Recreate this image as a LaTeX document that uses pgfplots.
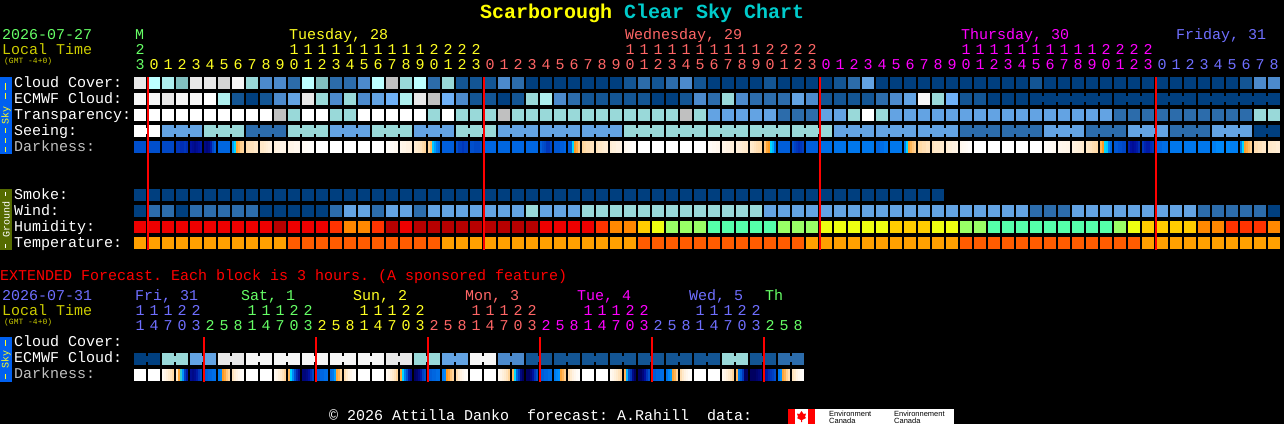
\documentclass[border=0pt]{standalone}
\usepackage{pgfplots}
\usepackage{pgfplotstable}
\usepackage{fontspec}
\pgfplotsset{compat=1.18}
\setmainfont{Liberation Mono}
\newfontfamily\logofont{Liberation Sans}

\definecolor{dayM}{HTML}{66FF66}
\definecolor{dayT}{HTML}{FFFF22}
\definecolor{dayW}{HTML}{FF6666}
\definecolor{dayH}{HTML}{FF00FF}
\definecolor{dayF}{HTML}{6F6FFF}
\definecolor{ltime}{HTML}{CCCC00}
\definecolor{skyb}{HTML}{0060F0}
\definecolor{gndg}{HTML}{556B00}
\definecolor{lab}{HTML}{FFFFFF}
\definecolor{labg}{HTML}{C0C0C0}
\definecolor{titley}{HTML}{FFFF00}
\definecolor{titlec}{HTML}{00CCCC}
\definecolor{lred}{HTML}{FF0000}

\pgfdeclareplotmark{cell}{\pgfpathrectangle{\pgfpoint{-6pt}{-6pt}}{\pgfpoint{12pt}{12pt}}\pgfusepathqfill}
\pgfdeclareplotmark{bridge}{\pgfpathrectangle{\pgfpoint{-1.5pt}{-3pt}}{\pgfpoint{3pt}{6pt}}\pgfusepathqfill}
\pgfdeclareplotmark{strip}{\pgfpathrectangle{\pgfpoint{-1pt}{-6pt}}{\pgfpoint{2.3pt}{12pt}}\pgfusepathqfill}

% i cloud ecmwf transp seeing smoke wind humidity temperature  (palette indices)
\pgfplotstableread{
i cloud ecmwf transp seeing smoke wind hum temp
0 11 12 13 13 0 0 20 28
1 9 12 13 13 0 2 20 28
2 8 11 13 4 0 2 20 28
3 7 12 13 4 0 0 20 28
4 11 12 13 4 0 2 20 28
5 11 13 13 6 0 2 20 28
6 14 8 13 6 0 2 20 28
7 12 1 13 6 0 2 20 28
8 6 0 13 2 0 2 20 28
9 3 1 13 2 0 0 20 28
10 3 3 10 2 0 0 21 28
11 2 4 6 6 0 0 20 29
12 9 11 13 6 0 0 20 29
13 7 6 13 6 0 0 20 29
14 2 3 6 4 0 2 22 29
15 2 6 6 4 0 4 23 29
16 3 3 13 4 0 4 23 29
17 9 4 13 6 0 2 22 29
18 10 5 13 6 0 4 21 29
19 6 8 13 6 0 4 20 29
20 9 11 13 4 0 2 21 29
21 2 10 6 4 0 4 21 29
22 6 5 13 4 0 4 21 28
23 1 3 6 6 0 4 21 28
24 1 1 6 6 0 4 21 28
25 1 1 6 6 0 4 21 28
26 3 0 10 4 0 4 21 28
27 2 1 6 4 0 4 21 28
28 0 6 6 4 0 6 21 28
29 0 8 6 4 0 4 20 28
30 0 3 6 4 0 4 20 28
31 0 2 6 4 0 4 20 28
32 0 1 6 4 0 6 20 28
33 0 1 6 4 0 6 22 28
34 0 1 6 4 0 6 23 28
35 1 1 6 6 0 6 23 28
36 2 1 6 6 0 6 24 29
37 1 0 6 6 0 6 25 29
38 2 0 6 6 0 6 26 29
39 3 1 10 6 0 6 26 29
40 1 3 6 6 0 6 26 29
41 0 2 4 6 0 6 27 29
42 0 6 4 6 0 6 27 29
43 0 3 4 6 0 6 27 29
44 0 2 4 6 0 6 27 29
45 1 2 4 6 0 4 27 29
46 0 2 2 6 0 4 26 29
47 0 4 2 6 0 4 26 29
48 0 3 2 6 0 4 26 28
49 0 1 4 6 0 4 25 28
50 1 1 4 4 0 4 25 28
51 2 1 6 4 0 4 25 28
52 4 1 13 4 0 4 25 28
53 0 2 6 4 0 4 25 28
54 0 3 4 4 0 4 24 28
55 0 4 4 4 0 4 24 28
56 0 12 4 4 0 4 24 28
57 0 6 4 4 0 4 25 28
58 0 5 4 4 -1 4 25 28
59 0 1 4 2 -1 4 26 29
60 0 1 4 2 -1 4 26 29
61 0 0 4 2 -1 4 27 29
62 0 0 4 2 -1 4 27 29
63 0 0 4 2 -1 4 27 29
64 1 0 4 2 -1 2 27 29
65 0 0 4 4 -1 2 27 29
66 0 0 4 4 -1 2 27 29
67 0 0 4 4 -1 4 27 29
68 0 0 4 2 -1 4 27 29
69 0 0 4 2 -1 4 27 29
70 0 0 2 2 -1 4 26 29
71 0 0 2 4 -1 4 25 29
72 0 0 2 4 -1 4 24 28
73 0 0 2 4 -1 4 24 28
74 0 0 2 2 -1 4 24 28
75 0 0 2 2 -1 4 24 28
76 0 0 2 2 -1 2 23 28
77 0 0 2 4 -1 2 23 28
78 0 0 2 4 -1 2 22 28
79 1 0 2 4 -1 2 22 28
80 3 0 6 0 -1 2 22 28
81 3 0 6 0 -1 0 23 28
}\sky

% darkness, main grid: six 2-pixel strips per block
\pgfplotstableread{
i a b c d e f
0 124 124 124 124 124 124
1 124 124 124 124 124 124
2 122 122 122 122 122 122
3 118 118 116 116 118 116
4 110 108 106 108 110 112
5 106 104 106 112 122 128
6 130 130 130 130 130 130
7 142 150 162 165 170 172
8 176 177 178 178 180 180
9 180 180 182 184 186 188
10 186 188 188 190 190 190
11 190 190 190 192 192 192
12 196 196 197 198 198 198
13 200 200 200 200 200 200
14 200 200 200 200 200 200
15 200 200 200 200 200 200
16 200 200 200 200 200 200
17 200 200 200 200 200 200
18 198 198 196 196 194 194
19 192 190 190 188 188 186
20 184 182 180 178 175 172
21 172 165 148 142 135 132
22 128 128 128 128 128 128
23 124 120 120 118 120 120
24 124 124 122 122 122 124
25 130 130 130 130 130 130
26 130 130 130 130 130 130
27 130 130 130 130 130 130
28 130 130 130 130 130 130
29 128 124 122 118 118 122
30 126 126 126 128 128 130
31 128 128 150 160 163 168
32 172 174 176 176 178 178
33 178 180 180 182 184 184
34 184 186 186 188 188 188
35 192 194 195 196 198 198
36 200 200 200 200 200 200
37 200 200 200 200 200 200
38 200 200 200 200 200 200
39 200 200 200 200 200 200
40 200 200 200 200 200 200
41 196 196 194 194 192 192
42 190 190 188 188 186 186
43 186 185 184 182 181 180
44 182 180 178 176 175 174
45 168 162 160 150 145 132
46 128 128 128 128 128 128
47 124 120 118 116 118 120
48 128 128 128 128 128 128
49 132 132 132 132 132 132
50 133 133 133 133 133 133
51 134 134 134 134 134 134
52 134 134 134 134 134 134
53 130 130 132 132 134 134
54 134 134 134 134 134 134
55 136 150 161 165 168 170
56 174 174 176 176 178 178
57 178 180 180 180 182 182
58 184 186 186 188 188 190
59 192 194 195 196 198 198
60 200 200 200 200 200 200
61 200 200 200 200 200 200
62 200 200 200 200 200 200
63 200 200 200 200 200 200
64 200 200 200 200 200 200
65 198 197 196 196 195 195
66 192 192 191 191 190 190
67 188 187 186 185 184 182
68 180 179 178 176 175 174
69 165 160 150 148 135 130
70 126 126 124 124 122 122
71 114 110 108 110 112 116
72 118 114 112 112 116 118
73 130 130 130 132 132 132
74 134 134 134 134 134 134
75 134 134 134 134 134 134
76 134 134 134 134 134 134
77 136 136 138 138 138 138
78 138 138 136 136 136 136
79 135 150 161 163 166 170
80 176 176 178 178 180 180
81 180 181 182 182 184 184
}\dark

% extended forecast: ECMWF cloud index and darkness strips
\pgfplotstableread{
i ecmwf a b c d e f
0 0 200 200 200 200 200 200
1 0 200 200 200 200 200 200
2 6 195 190 186 182 178 174
3 6 180 162 152 140 120 112
4 4 108 106 108 112 118 122
5 4 126 128 130 130 132 132
6 11 135 138 160 163 168 172
7 11 178 184 188 192 196 198
8 12 200 200 200 200 200 200
9 12 200 200 200 200 200 200
10 12 194 190 186 182 178 172
11 12 165 150 138 125 115 108
12 12 104 104 106 110 116 122
13 12 128 128 130 130 132 132
14 12 132 134 142 162 165 172
15 12 176 182 188 192 196 198
16 12 200 200 200 200 200 200
17 12 200 200 200 200 200 200
18 11 194 190 186 182 178 172
19 11 162 150 135 125 112 106
20 6 100 102 106 112 120 124
21 6 128 128 130 130 132 132
22 4 135 138 160 163 168 172
23 4 176 182 188 192 196 198
24 12 200 200 200 200 200 200
25 12 200 200 200 200 200 200
26 3 194 190 186 182 178 172
27 3 165 150 130 120 105 100
28 1 100 100 104 110 118 124
29 1 128 128 130 130 132 132
30 1 135 138 140 162 165 170
31 1 176 182 188 192 196 198
32 1 200 200 200 200 200 200
33 1 200 200 200 200 200 200
34 1 194 190 186 182 178 172
35 1 165 145 125 118 106 100
36 1 100 100 104 110 118 124
37 1 128 128 130 130 132 132
38 1 133 138 142 162 165 172
39 1 176 182 188 192 196 198
40 1 200 200 200 200 200 200
41 1 200 200 200 200 200 200
42 6 194 190 186 182 178 172
43 6 165 135 128 118 100 100
44 1 100 100 100 102 104 108
45 1 110 112 116 118 120 124
46 2 135 140 162 165 170 176
47 2 178 182 188 192 196 198
}\ext

\pgfplotsset{
  blockplot/.style={scatter,only marks,mark=cell},
  bridgeplot/.style={scatter,only marks,mark=bridge},
  stripplot/.style={scatter,only marks,mark=strip},
}

\newcommand{\txt}[5][15]{\node[anchor=base west,inner sep=0pt,text=#2,font=\fontsize{#1}{#1}\selectfont\frenchspacing] at ({#3},{424-#4}) {#5};}
\newcommand{\digits}[5]{\foreach \d [count=\n from #3] in {#5} {\node[anchor=base,inner sep=0pt,text=#1,font=\fontsize{15}{15}\selectfont] at ({#4+14*\n},{424-#2}) {\d};}}

\begin{document}
\begin{tikzpicture}[x=1pt,y=1pt]
\fill[black] (0,0) rectangle (1284,424);
\begin{axis}[
  at={(0,0)},anchor=south west,
  scale only axis,width=1284pt,height=424pt,
  xmin=0,xmax=1284,ymin=0,ymax=424,y dir=reverse,
  axis lines=none,clip=true,clip mode=individual,
  point meta min=0,point meta max=200,
  colormap={csc}{
    rgb255(0)=(0,63,127) rgb255(1)=(19,85,148) rgb255(2)=(44,108,171) rgb255(3)=(76,138,204)
    rgb255(4)=(99,163,227) rgb255(5)=(111,177,247) rgb255(6)=(153,217,217) rgb255(7)=(129,191,191)
    rgb255(8)=(174,238,238) rgb255(9)=(189,255,255) rgb255(10)=(192,192,192) rgb255(11)=(232,232,232)
    rgb255(12)=(246,246,246) rgb255(13)=(255,255,255) rgb255(14)=(212,212,212)
    rgb255(20)=(238,0,0) rgb255(21)=(184,0,0) rgb255(22)=(255,51,0) rgb255(23)=(255,136,0)
    rgb255(24)=(255,204,0) rgb255(25)=(238,255,17) rgb255(26)=(153,255,102) rgb255(27)=(85,255,170)
    rgb255(28)=(255,160,0) rgb255(29)=(255,92,0)
    rgb255(100)=(0,0,96) rgb255(110)=(0,16,160) rgb255(120)=(0,64,192) rgb255(130)=(0,102,224)
    rgb255(140)=(0,144,255) rgb255(150)=(0,216,255) rgb255(160)=(255,154,32) rgb255(170)=(255,208,144)
    rgb255(180)=(255,232,200) rgb255(190)=(255,245,232) rgb255(200)=(255,255,255)
  },
]
% side strips
\addplot[fill=skyb,draw=none] coordinates {(0,77) (12,77) (12,154) (0,154)} --cycle;
\addplot[fill=gndg,draw=none] coordinates {(0,189) (12,189) (12,250) (0,250)} --cycle;
\addplot[fill=skyb,draw=none] coordinates {(0,337) (12,337) (12,382) (0,382)} --cycle;
\addplot[dayT,line width=1pt,unbounded coords=jump] table[row sep=\\]{x y\\ 5.5 83\\ 5.5 90\\ nan nan\\ 5.5 93\\ 5.5 99\\ nan nan\\ 5.5 128\\ 5.5 133\\ nan nan\\ 5.5 138\\ 5.5 143\\ nan nan\\ 5.5 147\\ 5.5 152\\ nan nan\\ 5.5 340\\ 5.5 346\\ nan nan\\ 5.5 374\\ 5.5 379\\};
\addplot[white,line width=1pt,unbounded coords=jump] table[row sep=\\]{x y\\ 5.5 192\\ 5.5 196\\ nan nan\\ 5.5 244\\ 5.5 248\\};

% main grid
\addplot[blockplot,point meta=\thisrow{cloud}] table[x expr=140+14*\thisrow{i},y expr=83]{\sky};
\addplot[blockplot,point meta=\thisrow{ecmwf}] table[x expr=140+14*\thisrow{i},y expr=99]{\sky};
\addplot[blockplot,point meta=\thisrow{transp}] table[x expr=140+14*\thisrow{i},y expr=115]{\sky};
\addplot[blockplot,point meta=\thisrow{seeing}] table[x expr=140+14*\thisrow{i},y expr=131]{\sky};
\addplot[blockplot,point meta=\thisrow{smoke},restrict x to domain=0:945] table[x expr=140+14*\thisrow{i},y expr=195]{\sky};
\addplot[blockplot,point meta=\thisrow{wind}] table[x expr=140+14*\thisrow{i},y expr=211]{\sky};
\addplot[blockplot,point meta=\thisrow{hum}] table[x expr=140+14*\thisrow{i},y expr=227]{\sky};
\addplot[blockplot,point meta=\thisrow{temp}] table[x expr=140+14*\thisrow{i},y expr=243]{\sky};
% joined blocks, seeing row (gap index, colour)
\addplot[bridgeplot,point meta=\thisrow{c}] table[x expr=140+14*\thisrow{i},y expr=131,row sep=\\]{i c\\
0.5 13\\ 2.5 4\\ 3.5 4\\ 5.5 6\\ 6.5 6\\ 8.5 2\\ 9.5 2\\ 11.5 6\\ 12.5 6\\ 14.5 4\\ 15.5 4\\ 17.5 6\\ 18.5 6\\ 20.5 4\\ 21.5 4\\
23.5 6\\ 24.5 6\\ 26.5 4\\ 27.5 4\\ 29.5 4\\ 30.5 4\\ 32.5 4\\ 33.5 4\\ 35.5 6\\ 36.5 6\\ 38.5 6\\ 39.5 6\\ 41.5 6\\ 42.5 6\\ 44.5 6\\ 45.5 6\\ 47.5 6\\ 48.5 6\\
50.5 4\\ 51.5 4\\ 53.5 4\\ 54.5 4\\ 56.5 4\\ 57.5 4\\ 59.5 2\\ 60.5 2\\ 62.5 2\\ 63.5 2\\ 65.5 4\\ 66.5 4\\ 68.5 2\\ 69.5 2\\ 71.5 4\\ 72.5 4\\ 74.5 2\\ 75.5 2\\ 77.5 4\\ 78.5 4\\ 80.5 0\\};
% joined blocks, ECMWF row
\addplot[bridgeplot,point meta=\thisrow{c}] table[x expr=140+14*\thisrow{i},y expr=99,row sep=\\]{i c\\
64.5 0\\ 65.5 0\\ 66.5 0\\ 67.5 0\\ 68.5 0\\ 70.5 0\\ 71.5 0\\ 73.5 0\\ 74.5 0\\ 76.5 0\\ 77.5 0\\ 78.5 0\\ 79.5 0\\ 80.5 0\\};
% darkness strips
\addplot[stripplot,point meta=\thisrow{a}] table[x expr=135+14*\thisrow{i},y expr=147]{\dark};
\addplot[stripplot,point meta=\thisrow{b}] table[x expr=137+14*\thisrow{i},y expr=147]{\dark};
\addplot[stripplot,point meta=\thisrow{c}] table[x expr=139+14*\thisrow{i},y expr=147]{\dark};
\addplot[stripplot,point meta=\thisrow{d}] table[x expr=141+14*\thisrow{i},y expr=147]{\dark};
\addplot[stripplot,point meta=\thisrow{e}] table[x expr=143+14*\thisrow{i},y expr=147]{\dark};
\addplot[stripplot,point meta=\thisrow{f}] table[x expr=145+14*\thisrow{i},y expr=147]{\dark};

% extended grid
\addplot[blockplot,point meta=\thisrow{ecmwf}] table[x expr=140+14*\thisrow{i},y expr=359]{\ext};
\addplot[bridgeplot,point meta=\thisrow{c}] table[x expr=140+14*\thisrow{i},y expr=359,row sep=\\]{i c\\
0.5 0\\ 2.5 6\\ 4.5 4\\ 6.5 11\\ 8.5 12\\ 10.5 12\\ 12.5 12\\ 14.5 12\\ 16.5 12\\ 18.5 11\\ 20.5 6\\ 22.5 4\\ 24.5 12\\ 26.5 3\\ 28.5 1\\ 30.5 1\\ 32.5 1\\ 34.5 1\\ 36.5 1\\ 38.5 1\\ 40.5 1\\ 42.5 6\\ 44.5 1\\ 46.5 2\\};
\addplot[stripplot,point meta=\thisrow{a}] table[x expr=135+14*\thisrow{i},y expr=375]{\ext};
\addplot[stripplot,point meta=\thisrow{b}] table[x expr=137+14*\thisrow{i},y expr=375]{\ext};
\addplot[stripplot,point meta=\thisrow{c}] table[x expr=139+14*\thisrow{i},y expr=375]{\ext};
\addplot[stripplot,point meta=\thisrow{d}] table[x expr=141+14*\thisrow{i},y expr=375]{\ext};
\addplot[stripplot,point meta=\thisrow{e}] table[x expr=143+14*\thisrow{i},y expr=375]{\ext};
\addplot[stripplot,point meta=\thisrow{f}] table[x expr=145+14*\thisrow{i},y expr=375]{\ext};

% day boundaries
\addplot[lred,line width=2pt,unbounded coords=jump] table[row sep=\\]{x y\\
148 77\\ 148 250\\ nan nan\\ 484 77\\ 484 250\\ nan nan\\ 820 77\\ 820 250\\ nan nan\\ 1156 77\\ 1156 250\\ nan nan\\
204 337\\ 204 382\\ nan nan\\ 316 337\\ 316 382\\ nan nan\\ 428 337\\ 428 382\\ nan nan\\ 540 337\\ 540 382\\ nan nan\\ 652 337\\ 652 382\\ nan nan\\ 764 337\\ 764 382\\};
% logo
\addplot[fill=white,draw=none] coordinates {(788,409) (954,409) (954,424) (788,424)} --cycle;
\addplot[fill=lred,draw=none] coordinates {(788,409) (795,409) (795,424) (788,424)} --cycle;
\addplot[fill=lred,draw=none] coordinates {(807.5,409) (815,409) (815,424) (807.5,424)} --cycle;
\addplot[fill=lred,draw=none] coordinates {(801.5,411) (803.5,414) (806,413.5) (805,417) (806,418) (802,420) (802,422) (801,422) (801,420) (797,418) (798,417) (797,413.5) (799.5,414)} --cycle;
\end{axis}

% title
\node[anchor=base west,inner sep=0pt,font=\fontsize{20}{20}\selectfont\bfseries,text=titley] at (480,{424-19}) {Scarborough};
\node[anchor=base west,inner sep=0pt,font=\fontsize{20}{20}\selectfont\bfseries,text=titlec] at (624,{424-19}) {Clear Sky Chart};

% header, main
\txt{dayM}{2}{40}{2026-07-27}
\txt{ltime}{2}{55}{Local Time}
\txt[8]{ltime}{4}{64}{(GMT -4+0)}
\txt{dayM}{135}{40}{M}
\txt{dayT}{289}{40}{Tuesday, 28}
\txt{dayW}{625}{40}{Wednesday, 29}
\txt{dayH}{961}{40}{Thursday, 30}
\txt{dayF}{1176}{40}{Friday, 31}
\digits{dayM}{55}{0}{140}{2}
\digits{dayM}{70}{0}{140}{3}
\digits{dayT}{55}{11}{140}{1,1,1,1,1,1,1,1,1,1,2,2,2,2}
\digits{dayW}{55}{35}{140}{1,1,1,1,1,1,1,1,1,1,2,2,2,2}
\digits{dayH}{55}{59}{140}{1,1,1,1,1,1,1,1,1,1,2,2,2,2}
\digits{dayT}{70}{1}{140}{0,1,2,3,4,5,6,7,8,9,0,1,2,3,4,5,6,7,8,9,0,1,2,3}
\digits{dayW}{70}{25}{140}{0,1,2,3,4,5,6,7,8,9,0,1,2,3,4,5,6,7,8,9,0,1,2,3}
\digits{dayH}{70}{49}{140}{0,1,2,3,4,5,6,7,8,9,0,1,2,3,4,5,6,7,8,9,0,1,2,3}
\digits{dayF}{70}{73}{140}{0,1,2,3,4,5,6,7,8}

% row labels
\txt{lab}{14}{87}{Cloud Cover:}
\txt{lab}{14}{103}{ECMWF Cloud:}
\txt{lab}{14}{119}{Transparency:}
\txt{lab}{14}{135}{Seeing:}
\txt{labg}{14}{151}{Darkness:}
\txt{lab}{14}{199}{Smoke:}
\txt{lab}{14}{215}{Wind:}
\txt{lab}{14}{231}{Humidity:}
\txt{lab}{14}{247}{Temperature:}

% extended
\txt{lred}{0}{280}{EXTENDED Forecast. Each block is 3 hours. (A sponsored feature)}
\txt{dayF}{2}{300}{2026-07-31}
\txt{ltime}{2}{315}{Local Time}
\txt[8]{ltime}{4}{324}{(GMT -4+0)}
\txt{dayF}{135}{300}{Fri, 31}
\txt{dayM}{241}{300}{Sat, 1}
\txt{dayT}{353}{300}{Sun, 2}
\txt{dayW}{465}{300}{Mon, 3}
\txt{dayH}{577}{300}{Tue, 4}
\txt{dayF}{689}{300}{Wed, 5}
\txt{dayM}{765}{300}{Th}
\digits{dayF}{315}{0}{140}{1,1,1,2,2}
\digits{dayM}{315}{8}{140}{1,1,1,2,2}
\digits{dayT}{315}{16}{140}{1,1,1,2,2}
\digits{dayW}{315}{24}{140}{1,1,1,2,2}
\digits{dayH}{315}{32}{140}{1,1,1,2,2}
\digits{dayF}{315}{40}{140}{1,1,1,2,2}
\digits{dayF}{330}{0}{140}{1,4,7,0,3}
\digits{dayM}{330}{5}{140}{2,5,8,1,4,7,0,3}
\digits{dayT}{330}{13}{140}{2,5,8,1,4,7,0,3}
\digits{dayW}{330}{21}{140}{2,5,8,1,4,7,0,3}
\digits{dayH}{330}{29}{140}{2,5,8,1,4,7,0,3}
\digits{dayF}{330}{37}{140}{2,5,8,1,4,7,0,3}
\digits{dayM}{330}{45}{140}{2,5,8}
\txt{lab}{14}{346}{Cloud Cover:}
\txt{lab}{14}{362}{ECMWF Cloud:}
\txt{labg}{14}{378}{Darkness:}

% strip captions
\node[rotate=90,inner sep=0pt,text=dayT,font=\fontsize{10}{10}\selectfont] at (6,{424-115}) {Sky};
\node[rotate=90,inner sep=0pt,text=white,font=\fontsize{10}{10}\selectfont] at (6,{424-219}) {Ground};
\node[rotate=90,inner sep=0pt,text=dayT,font=\fontsize{10}{10}\selectfont] at (6,{424-359}) {Sky};

% footer
\txt{lab}{329}{420}{© 2026 Attilla Danko\ \ forecast: A.Rahill\ \ data:}
\node[anchor=base west,inner sep=0pt,text=black,font=\logofont\fontsize{7.5}{7.5}\selectfont] at (829,{424-416}) {Environment};
\node[anchor=base west,inner sep=0pt,text=black,font=\logofont\fontsize{7.5}{7.5}\selectfont] at (829,{424-423}) {Canada};
\node[anchor=base west,inner sep=0pt,text=black,font=\logofont\fontsize{7.5}{7.5}\selectfont] at (894,{424-416}) {Environnement};
\node[anchor=base west,inner sep=0pt,text=black,font=\logofont\fontsize{7.5}{7.5}\selectfont] at (894,{424-423}) {Canada};
\end{tikzpicture}
\end{document}
